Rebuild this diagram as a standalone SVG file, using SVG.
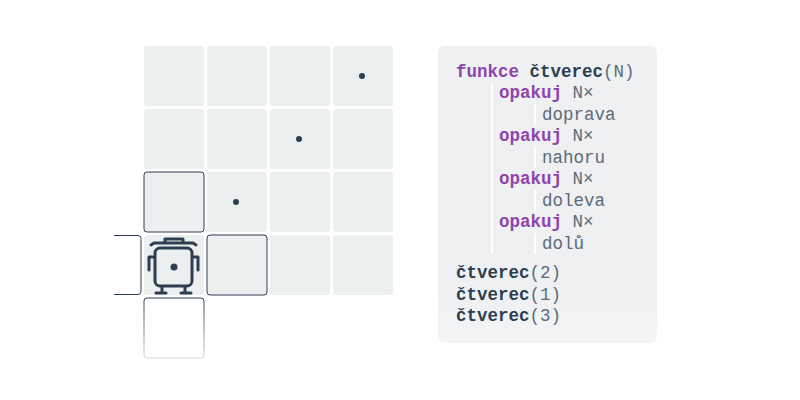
<svg xmlns="http://www.w3.org/2000/svg" width="800" height="400" viewBox="0 0 800 400">
<defs>
<linearGradient id="fade" x1="0" y1="0" x2="0" y2="1"><stop offset="0" stop-color="#2c3e50"/><stop offset="1" stop-color="#2c3e50" stop-opacity="0.2"/></linearGradient>
<linearGradient id="panel" x1="0" y1="0" x2="0" y2="1"><stop offset="0.85" stop-color="#eef0f2"/><stop offset="1" stop-color="#f4f5f7"/></linearGradient>
</defs>
<style>
.c{fill:#eceff0;}
.dot{fill:#2c3e50;}
.t{font-family:"Liberation Mono",monospace;font-size:17.5px;fill:#5d6b78;}
.k{font-weight:bold;fill:#8e44ad;}
.f{font-weight:bold;fill:#2c3e50;}
.g{stroke:#fff;stroke-width:2;}
.r{fill:none;stroke:#2c3e50;stroke-width:3;stroke-linecap:round;stroke-linejoin:round;}
</style>
<g id="grid">
<rect class="c" x="144" y="46" width="60" height="60" rx="3"/>
<rect class="c" x="207" y="46" width="60" height="60" rx="3"/>
<rect class="c" x="270" y="46" width="60" height="60" rx="3"/>
<rect class="c" x="333" y="46" width="60" height="60" rx="3"/>
<rect class="c" x="144" y="109" width="60" height="60" rx="3"/>
<rect class="c" x="207" y="109" width="60" height="60" rx="3"/>
<rect class="c" x="270" y="109" width="60" height="60" rx="3"/>
<rect class="c" x="333" y="109" width="60" height="60" rx="3"/>
<rect class="c" x="144" y="172" width="60" height="60" rx="3" stroke="#2c3e50" stroke-width="1"/>
<rect class="c" x="207" y="172" width="60" height="60" rx="3"/>
<rect class="c" x="270" y="172" width="60" height="60" rx="3"/>
<rect class="c" x="333" y="172" width="60" height="60" rx="3"/>
<path d="M114 235.5 H138 Q141 235.5 141 238.5 V291.5 Q141 294.5 138 294.5 H114" fill="#fff" stroke="#2c3e50" stroke-width="1"/>
<rect class="c" x="144" y="235" width="60" height="60" rx="3"/>
<rect class="c" x="207" y="235" width="60" height="60" rx="3" stroke="#2c3e50" stroke-width="1"/>
<rect class="c" x="270" y="235" width="60" height="60" rx="3"/>
<rect class="c" x="333" y="235" width="60" height="60" rx="3"/>
<rect fill="#fff" x="144" y="298" width="60" height="60" rx="3" stroke="url(#fade)" stroke-width="1"/>
<circle class="dot" cx="362" cy="76" r="3"/>
<circle class="dot" cx="299" cy="139" r="3"/>
<circle class="dot" cx="236" cy="202" r="3"/>
</g>
<g id="robot">
<rect x="155" y="248" width="37" height="38" rx="5" fill="#fff" class="r"/>
<path class="r" d="M151 245 L154 243 H193 L196 245 M165 243 V239 H183 V243" stroke-width="2.5"/>
<path class="r" d="M149 270 V257 H153 M198 270 V257 H194"/>
<path class="r" d="M162 287 V292 M156 293 H166 M185 287 V292 M181 293 H191"/>
<circle class="dot" cx="174" cy="267" r="3.5"/>
</g>
<g id="code">
<rect x="438" y="46" width="219" height="297" rx="6" fill="url(#panel)"/>
<line class="g" x1="492" y1="83" x2="492" y2="254"/>
<line class="g" x1="535" y1="104" x2="535" y2="125"/>
<line class="g" x1="535" y1="147" x2="535" y2="168"/>
<line class="g" x1="535" y1="190" x2="535" y2="211"/>
<line class="g" x1="535" y1="233" x2="535" y2="254"/>
<text class="t" x="456" y="77"><tspan class="k">funkce</tspan> <tspan class="f">čtverec</tspan>(N)</text>
<text class="t" x="499" y="98"><tspan class="k">opakuj</tspan> N×</text>
<text class="t" x="542" y="120">doprava</text>
<text class="t" x="499" y="141"><tspan class="k">opakuj</tspan> N×</text>
<text class="t" x="542" y="163">nahoru</text>
<text class="t" x="499" y="184"><tspan class="k">opakuj</tspan> N×</text>
<text class="t" x="542" y="206">doleva</text>
<text class="t" x="499" y="227"><tspan class="k">opakuj</tspan> N×</text>
<text class="t" x="542" y="249">dolů</text>
<text class="t" x="456" y="278"><tspan class="f">čtverec</tspan>(2)</text>
<text class="t" x="456" y="300"><tspan class="f">čtverec</tspan>(1)</text>
<text class="t" x="456" y="321"><tspan class="f">čtverec</tspan>(3)</text>
</g>
</svg>
